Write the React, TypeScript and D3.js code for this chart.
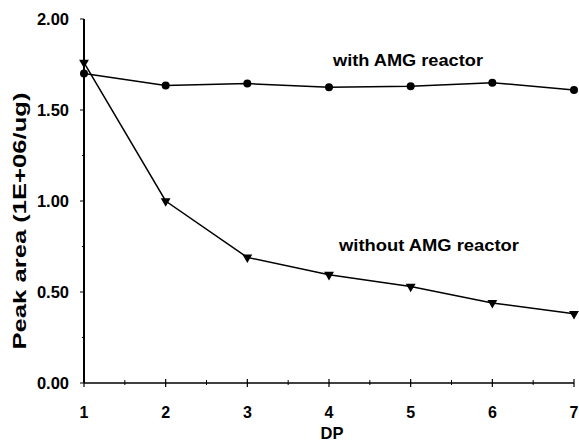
import React from "react";
import * as d3 from "d3";

const dp = [1, 2, 3, 4, 5, 6, 7];
const withAmg = [1.7, 1.635, 1.645, 1.625, 1.63, 1.65, 1.61];
const withoutAmg = [1.76, 1.0, 0.69, 0.595, 0.53, 0.44, 0.38];
const yTicks = [0, 0.5, 1.0, 1.5, 2.0];
const yMinor = [0.25, 0.75, 1.25, 1.75];
const xMinor = [1.5, 2.5, 3.5, 4.5, 5.5, 6.5];

const W = 579;
const H = 441;
const font = "'Liberation Sans', Arial, sans-serif";

const App = () => {
  const x = d3.scaleLinear().domain([1, 7]).range([84, 574]);
  const y = d3.scaleLinear().domain([0, 2]).range([383, 19]);

  const line = d3
    .line<number>()
    .x((d, i) => x(dp[i]))
    .y((d) => y(d));

  const tri = d3.symbol().type(d3.symbolTriangle).size(42)();

  return (
    <svg
      width={W}
      height={H}
      style={{ position: "absolute", left: 0, top: 0, background: "#fff" }}
      fontFamily={font}
    >
      {/* y axis */}
      <line x1={x(1)} x2={x(1)} y1={y(2)} y2={y(0)} stroke="#000" strokeWidth={2} />
      {yTicks.map((t) => (
        <g key={"yt" + t}>
          <line x1={x(1) - 4} x2={x(1)} y1={y(t)} y2={y(t)} stroke="#000" strokeWidth={1} />
          <text
            x={69}
            y={y(t)}
            dy="0.36em"
            textAnchor="end"
            fontSize={16.5}
            fontWeight="bold"
          >
            {t.toFixed(2)}
          </text>
        </g>
      ))}
      {yMinor.map((t) => (
        <line key={"ym" + t} x1={x(1) - 2} x2={x(1)} y1={y(t)} y2={y(t)} stroke="#000" strokeWidth={1} />
      ))}

      {/* x axis */}
      <line x1={x(1)} x2={x(7)} y1={y(0)} y2={y(0)} stroke="#000" strokeWidth={1.5} />
      {dp.map((t) => (
        <g key={"xt" + t}>
          <line x1={x(t)} x2={x(t)} y1={y(0) - 4} y2={y(0) + 4} stroke="#000" strokeWidth={1.2} />
          <text x={x(t)} y={418} textAnchor="middle" fontSize={16} fontWeight="bold">
            {t}
          </text>
        </g>
      ))}
      {xMinor.map((t) => (
        <line key={"xm" + t} x1={x(t)} x2={x(t)} y1={y(0) - 3} y2={y(0) + 2} stroke="#000" strokeWidth={1} />
      ))}

      <text x={332} y={439} textAnchor="middle" fontSize={16.5} fontWeight="bold">
        DP
      </text>
      <text
        transform={`translate(26,221) rotate(-90)`}
        textAnchor="middle"
        fontSize={19}
        fontWeight="bold"
        textLength={257}
        lengthAdjust="spacingAndGlyphs"
      >
        Peak area (1E+06/ug)
      </text>

      {/* series */}
      <path d={line(withAmg) || ""} fill="none" stroke="#000" strokeWidth={1.5} />
      <path d={line(withoutAmg) || ""} fill="none" stroke="#000" strokeWidth={1.5} />
      {withAmg.map((v, i) => (
        <circle key={"c" + i} cx={x(dp[i])} cy={y(v)} r={4} fill="#000" />
      ))}
      {withoutAmg.map((v, i) => (
        <path
          key={"t" + i}
          d={tri || ""}
          transform={`translate(${x(dp[i])},${y(v)}) rotate(180)`}
          fill="#000"
        />
      ))}

      <text x={333} y={66} fontSize={16} fontWeight="bold" textLength={150} lengthAdjust="spacingAndGlyphs">
        with AMG reactor
      </text>
      <text x={339} y={251} fontSize={16} fontWeight="bold" textLength={180} lengthAdjust="spacingAndGlyphs">
        without AMG reactor
      </text>
    </svg>
  );
};

export default App;
